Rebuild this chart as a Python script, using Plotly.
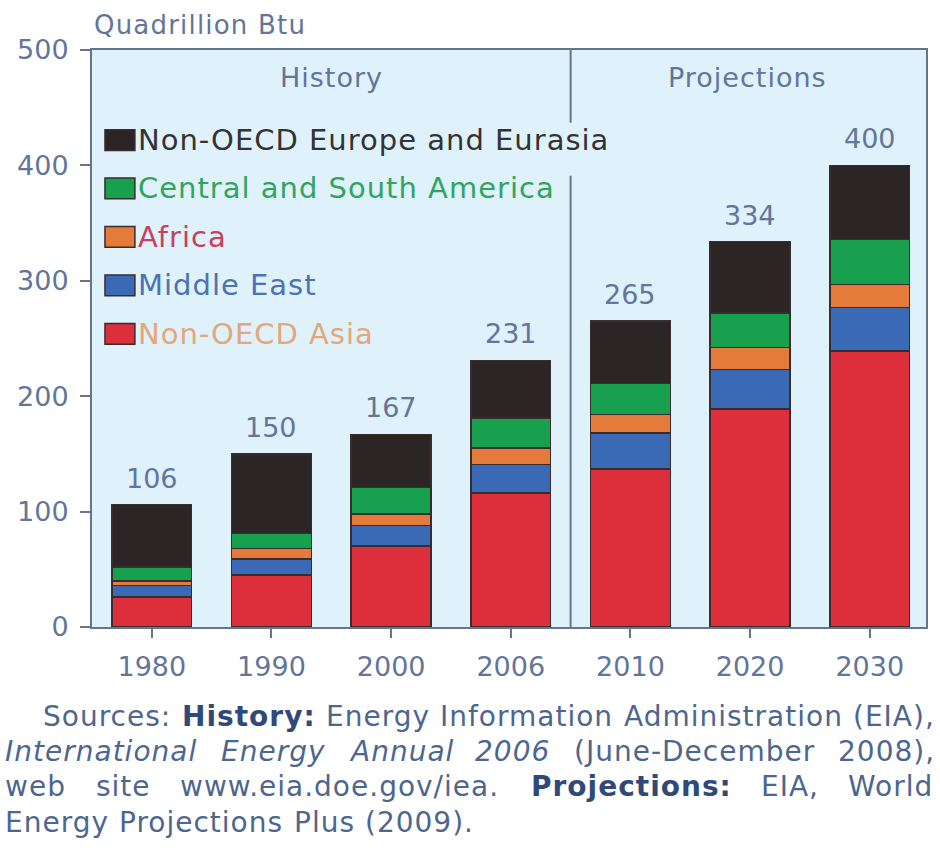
import plotly.graph_objects as go

# ---------------- data ----------------
years = ["1980", "1990", "2000", "2006", "2010", "2020", "2030"]
non_oecd_asia = [26, 45, 70, 116, 137, 189, 239]
middle_east = [10, 14, 18, 25, 31, 34, 38]
africa = [4, 9, 10, 14, 16, 19, 20]
central_south_america = [12, 13, 23, 26, 27, 30, 39]
non_oecd_europe_eurasia = [54, 69, 46, 50, 54, 62, 64]
totals = [106, 150, 167, 231, 265, 334, 400]

series_names = ["Non-OECD Asia", "Middle East", "Africa",
                "Central and South America", "Non-OECD Europe and Eurasia"]
series_values = [non_oecd_asia, middle_east, africa,
                 central_south_america, non_oecd_europe_eurasia]
bar_colors = ["#dc2f3b", "#3a6ab6", "#e57b3a", "#17a04d", "#2b2526"]
legend_text_colors = ["#e3a77a", "#4a73b5", "#c9405a", "#2fa55e", "#333333"]

y_ticks = [0, 100, 200, 300, 400, 500]
period_labels = ["History", "Projections"]
unit_label = "Quadrillion Btu"

footnote_lines = [
    [("Sources:", ""), ("History:", "b"), ("Energy", ""), ("Information", ""),
     ("Administration", ""), ("(EIA),", "")],
    [("International", "i"), ("Energy", "i"), ("Annual", "i"), ("2006", "i"),
     ("(June-December", ""), ("2008),", "")],
    [("web", ""), ("site", ""), ("www.eia.doe.gov/iea.", ""), ("Projections:", "b"),
     ("EIA,", ""), ("World", "")],
    [("Energy", ""), ("Projections", ""), ("Plus", ""), ("(2009).", "")],
]

FONT = "DejaVu Sans"
AXIS_COLOR = "#66758f"
LABEL_COLOR = "#62759a"
PLOT_BG = "#dff1fb"

# approximate DejaVu Sans advance widths (em) for justification of footnote
REG = {" ": .318, "(": .390, ")": .390, ",": .318, "-": .361, ".": .318, "/": .337,
       ":": .337, "A": .684, "B": .686, "C": .698, "D": .770, "E": .632, "H": .752,
       "I": .295, "J": .295, "P": .603, "S": .635, "W": .989,
       "a": .613, "b": .635, "c": .550, "d": .635, "e": .615, "f": .352, "g": .635,
       "h": .634, "i": .278, "j": .278, "l": .278, "m": .974, "n": .634, "o": .612,
       "p": .635, "r": .411, "s": .521, "t": .392, "u": .634, "v": .592, "w": .818,
       "y": .592}
BOLD = {":": .400, "H": .837, "P": .733, "c": .593, "e": .678, "i": .343, "j": .343,
        "n": .712, "o": .687, "r": .493, "s": .595, "t": .478, "y": .652}


def text_width(s, size, bold=False, ls=0.0):
    tbl = BOLD if bold else REG
    return sum(tbl.get(ch, REG.get(ch, .636)) for ch in s) * size + ls * len(s)


def spaced(s, ls):
    return "<span style='letter-spacing:%spx'>%s</span>" % (ls, s)


fig = go.Figure()
for name, vals, col in zip(series_names, series_values, bar_colors):
    fig.add_trace(go.Bar(
        x=years, y=vals, name=name, showlegend=False,
        marker=dict(color=col, line=dict(color="#3a2b2d", width=1.5)),
        hoverinfo="x+y+name",
    ))

# ---- layout geometry (pixels) ----
L, R, T, B = 92, 12, 50, 228
W, H = 940, 855
pw, ph = W - L - R, H - T - B


def px_x(x):
    return (x - L) / pw


def px_y(y):
    return (H - B - y) / ph


annotations = []
shapes = []

# totals above bars (category axis -> use category index)
for i, tot in enumerate(totals):
    annotations.append(dict(text=str(tot), x=i, y=tot, xref="x", yref="y",
                            xanchor="center", yanchor="bottom", yshift=9,
                            showarrow=False,
                            font=dict(family=FONT, size=27, color=LABEL_COLOR)))

# Unit title
annotations.append(dict(
    text=spaced(unit_label, 1.2), xref="paper", yref="paper",
    x=0.0, y=px_y(25), xanchor="left", yanchor="middle", showarrow=False,
    font=dict(family=FONT, size=26, color=LABEL_COLOR)))

# period headings
for lab, xc in zip(period_labels, [1.5, 4.98]):
    annotations.append(dict(text=spaced(lab, 1), xref="x", yref="y", x=xc, y=476,
                            showarrow=False, xanchor="center", yanchor="middle",
                            font=dict(family=FONT, size=27, color=LABEL_COLOR)))

# divider between history and projections (interrupted behind the legend text)
shapes.append(dict(type="line", xref="x", yref="y", x0=3.5, x1=3.5, y0=0, y1=391,
                   line=dict(color=AXIS_COLOR, width=2)))
shapes.append(dict(type="line", xref="x", yref="y", x0=3.5, x1=3.5, y0=437, y1=500,
                   line=dict(color=AXIS_COLOR, width=2)))

# legend (manual, top item = last series)
leg_top = 422
leg_step = 42
for i, idx in enumerate(reversed(range(len(series_names)))):
    yc = leg_top - i * leg_step
    shapes.append(dict(type="rect", xref="paper", yref="y",
                       x0=px_x(105), x1=px_x(135), y0=yc - 9, y1=yc + 9,
                       fillcolor=bar_colors[idx], line=dict(color="#3a2b2d", width=1.5)))
    annotations.append(dict(text=spaced(series_names[idx], 1), xref="paper", yref="y",
                            x=px_x(136), y=yc, xanchor="left", yanchor="middle",
                            showarrow=False,
                            font=dict(family=FONT, size=29, color=legend_text_colors[idx])))

# footnote, justified
FN = "#4d6690"
FNB = "#2f4a7a"
FS = 28
LS = 1.0
line_y = [716, 751, 787, 822]
line_x0 = [42, 4, 4, 4]
line_x1 = [936, 936, 936, None]
for words, ypix, x0, x1 in zip(footnote_lines, line_y, line_x0, line_x1):
    widths = [text_width(w, FS, st == "b", LS) for w, st in words]
    if x1 is None:
        gap = text_width(" ", FS, False, LS)
    else:
        gap = (x1 - x0 - sum(widths)) / (len(words) - 1)
    x = x0
    for (w, st), wd in zip(words, widths):
        t = spaced(w, LS)
        if st == "b":
            t = "<b>" + t + "</b>"
        elif st == "i":
            t = "<i>" + t + "</i>"
        annotations.append(dict(text=t, xref="paper", yref="paper",
                                x=px_x(x), y=px_y(ypix), xanchor="left",
                                yanchor="middle", showarrow=False, borderpad=0,
                                font=dict(family=FONT, size=FS,
                                          color=FNB if st == "b" else FN)))
        x += wd + gap

fig.update_layout(
    width=W, height=H,
    margin=dict(l=L, r=R, t=T, b=B, pad=0),
    paper_bgcolor="white", plot_bgcolor=PLOT_BG,
    barmode="stack", bargap=0.333,
    showlegend=False,
    annotations=annotations, shapes=shapes,
    font=dict(family=FONT, color=LABEL_COLOR),
)
fig.update_xaxes(
    type="category", range=[-0.5, 6.47],
    showline=True, linecolor=AXIS_COLOR, linewidth=2, mirror=True,
    ticks="outside", ticklen=9, tickcolor=AXIS_COLOR, tickwidth=2,
    tickfont=dict(family=FONT, size=27, color=LABEL_COLOR),
    ticklabelstandoff=6, showgrid=False, zeroline=False,
)
fig.update_yaxes(
    range=[0, 500], tickvals=y_ticks,
    showline=True, linecolor=AXIS_COLOR, linewidth=2, mirror=True,
    ticks="outside", ticklen=10, tickcolor=AXIS_COLOR, tickwidth=2,
    tickfont=dict(family=FONT, size=27, color=LABEL_COLOR),
    ticklabelstandoff=6, showgrid=False, zeroline=False,
)

fig.write_html("out.html")
